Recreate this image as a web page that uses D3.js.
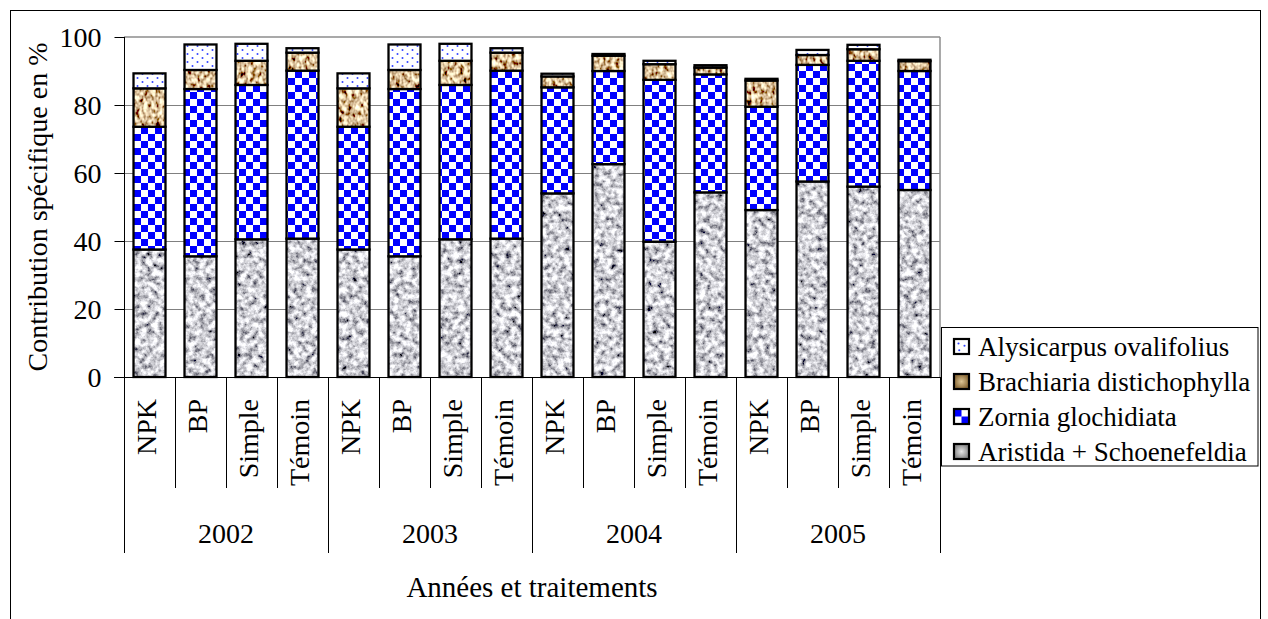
<!DOCTYPE html>
<html><head><meta charset="utf-8">
<script src="https://cdn.jsdelivr.net/npm/d3@7"></script>
<style>
html,body{margin:0;padding:0;background:#fff;}
svg text{font-family:"Liberation Serif","Tinos","Times New Roman","DejaVu Serif",serif !important;fill:#000;}
</style></head>
<body>
<svg id="chart" width="1268" height="619"></svg>
<script>
const years = ["2002","2003","2004","2005"];
const treatments = ["NPK","BP","Simple","Témoin"];
const seriesNames = ["Aristida + Schoenefeldia","Zornia glochidiata","Brachiaria distichophylla","Alysicarpus ovalifolius"];
const aristida    = [37.5,35.5,40.5,40.7, 37.5,35.5,40.5,40.7, 54.0,62.6,39.8,54.3, 49.1,57.5,56.0,55.0];
const zornia      = [36.1,49.2,45.4,49.4, 36.1,49.2,45.4,49.4, 31.2,27.4,47.6,34.7, 30.4,34.3,37.0,35.0];
const brachiaria  = [11.3,5.6,7.1,5.3, 11.3,5.6,7.1,5.3, 3.2,4.5,4.6,2.0, 7.7,2.9,3.4,2.9];
const alysicarpus = [4.4,7.5,5.0,1.3, 4.4,7.5,5.0,1.3, 0.8,0.5,1.0,0.7, 0.5,1.5,1.3,0.4];
const yTicks = [0,20,40,60,80,100];

const keys = ["aristida","zornia","brachiaria","alysicarpus"];
const rows = [];
years.forEach((yr,yi)=>treatments.forEach((t,ti)=>{
  const i = yi*4+ti;
  rows.push({id:yr+"-"+t, year:yr, treat:t, aristida:aristida[i], zornia:zornia[i], brachiaria:brachiaria[i], alysicarpus:alysicarpus[i]});
}));

const svg = d3.select("#chart");
const L=124, R=940, T=37, B=377;
const x = d3.scaleBand().domain(rows.map(d=>d.id)).range([L,R]).paddingInner(0.373).paddingOuter(0.1865);
const y = d3.scaleLinear().domain([0,100]).range([B,T]);
const step = x.step();

const defs = svg.append("defs");
const fg = defs.append("filter").attr("id","granite").attr("x",0).attr("y",0).attr("width","100%").attr("height","100%");
fg.append("feTurbulence").attr("type","fractalNoise").attr("baseFrequency","0.17").attr("numOctaves",4).attr("seed",7);
fg.append("feColorMatrix").attr("type","matrix").attr("values","2.0 0 0 0 -0.36  2.0 0 0 0 -0.36  2.0 0 0 0 -0.32  0 0 0 0 1");
const fb = defs.append("filter").attr("id","woven").attr("x",0).attr("y",0).attr("width","100%").attr("height","100%");
fb.append("feTurbulence").attr("type","fractalNoise").attr("baseFrequency","0.25 0.18").attr("numOctaves",2).attr("seed",3);
fb.append("feColorMatrix").attr("type","matrix").attr("values","2.4 0 0 0 -0.5  2.4 0 0 0 -0.67  1.9 0 0 0 -0.62  0 0 0 0 1");

const pg = defs.append("pattern").attr("id","pAristida").attr("patternUnits","userSpaceOnUse").attr("width",1268).attr("height",619);
pg.append("rect").attr("width",1268).attr("height",619).attr("filter","url(#granite)");
const pb = defs.append("pattern").attr("id","pBrachiaria").attr("patternUnits","userSpaceOnUse").attr("width",1268).attr("height",619);
pb.append("rect").attr("width",1268).attr("height",619).attr("filter","url(#woven)");
const pz = defs.append("pattern").attr("id","pZornia").attr("patternUnits","userSpaceOnUse").attr("width",14).attr("height",14).attr("x",1).attr("y",1);
pz.append("rect").attr("width",14).attr("height",14).attr("fill","#fff");
pz.append("rect").attr("width",7).attr("height",7).attr("fill","#0000ff");
pz.append("rect").attr("x",7).attr("y",7).attr("width",7).attr("height",7).attr("fill","#0000ff");
const pa = defs.append("pattern").attr("id","pAlys").attr("patternUnits","userSpaceOnUse").attr("width",10).attr("height",8);
pa.append("rect").attr("width",10).attr("height",8).attr("fill","#fff");
pa.append("circle").attr("cx",2.5).attr("cy",2).attr("r",1).attr("fill","#3344ff");
pa.append("circle").attr("cx",7.5).attr("cy",6).attr("r",1).attr("fill","#3344ff");

const lz = defs.append("pattern").attr("id","lZornia").attr("patternContentUnits","objectBoundingBox").attr("width",1).attr("height",1);
lz.append("rect").attr("width",1).attr("height",1).attr("fill","#fff");
lz.append("rect").attr("width",0.5).attr("height",0.5).attr("fill","#0000ff");
lz.append("rect").attr("x",0.5).attr("y",0.5).attr("width",0.5).attr("height",0.5).attr("fill","#0000ff");
const la = defs.append("pattern").attr("id","lAlys").attr("patternContentUnits","objectBoundingBox").attr("width",1).attr("height",1);
la.append("rect").attr("width",1).attr("height",1).attr("fill","#fff");
[[0.3,0.3],[0.7,0.45],[0.35,0.75]].forEach(p=>la.append("circle").attr("cx",p[0]).attr("cy",p[1]).attr("r",0.07).attr("fill","#3344ff"));
const gA = defs.append("radialGradient").attr("id","lAristida");
gA.append("stop").attr("offset","0%").attr("stop-color","#e6e6e6");
gA.append("stop").attr("offset","100%").attr("stop-color","#8a8a8a");
const gB = defs.append("radialGradient").attr("id","lBrach");
gB.append("stop").attr("offset","0%").attr("stop-color","#dcc595");
gB.append("stop").attr("offset","100%").attr("stop-color","#8a6a38");

const fills = {aristida:"url(#pAristida)", zornia:"url(#pZornia)", brachiaria:"url(#pBrachiaria)", alysicarpus:"url(#pAlys)"};
const legendFills = {aristida:"url(#lAristida)", zornia:"url(#lZornia)", brachiaria:"url(#lBrach)", alysicarpus:"url(#lAlys)"};

svg.append("rect").attr("x",10.5).attr("y",10.5).attr("width",1250).attr("height",640).attr("fill","#fff").attr("stroke","#000").attr("stroke-width",1);

svg.append("g").selectAll("line").data(yTicks.filter(v=>v>0 && v<100)).join("line")
  .attr("x1",L).attr("x2",R).attr("y1",d=>Math.round(y(d))+0.5).attr("y2",d=>Math.round(y(d))+0.5)
  .attr("stroke","#808080").attr("stroke-width",1);
svg.append("line").attr("x1",L).attr("x2",R).attr("y1",T).attr("y2",T).attr("stroke","#8c8c8c").attr("stroke-width",1.5);
svg.append("line").attr("x1",R).attr("x2",R).attr("y1",T).attr("y2",B).attr("stroke","#8c8c8c").attr("stroke-width",1.5);

const stacked = d3.stack().keys(keys)(rows);
const gBars = svg.append("g");
stacked.forEach(layer=>{
  gBars.append("g").selectAll("rect").data(layer).join("rect")
    .attr("x",d=>x(d.data.id)).attr("width",x.bandwidth())
    .attr("y",d=>y(d[1])).attr("height",d=>y(d[0])-y(d[1]))
    .attr("fill",fills[layer.key]).attr("stroke","#000").attr("stroke-width",2.3);
});

const yAxis = svg.append("g").attr("transform",`translate(${L+0.5},0)`)
  .call(d3.axisLeft(y).tickValues(yTicks).tickSize(10).tickPadding(13).tickFormat(d3.format("d")));
yAxis.attr("font-family",null);
yAxis.select(".domain").attr("stroke","#000").attr("d",`M0,${T}V${B}`);
yAxis.selectAll(".tick line").attr("stroke","#000");
yAxis.selectAll(".tick text").attr("font-size",28).attr("dy","0.34em");

svg.append("line").attr("x1",L-10).attr("x2",R).attr("y1",B+0.5).attr("y2",B+0.5).attr("stroke","#000").attr("stroke-width",1);

const seps = d3.range(rows.length+1);
svg.append("g").selectAll("line").data(seps).join("line")
  .attr("x1",i=>Math.round(L+i*step)+0.5).attr("x2",i=>Math.round(L+i*step)+0.5)
  .attr("y1",B).attr("y2",i=>i%4===0?553:488)
  .attr("stroke","#000").attr("stroke-width",1);

svg.append("g").selectAll("text").data(rows).join("text")
  .attr("transform",d=>`translate(${x(d.id)+x.bandwidth()/2},399) rotate(-90)`)
  .attr("text-anchor","end").attr("dy","0.24em").attr("font-size",28).text(d=>d.treat);

svg.append("g").selectAll("text").data(years).join("text")
  .attr("x",(d,i)=>L+step*(i*4+2)).attr("y",543).attr("text-anchor","middle").attr("font-size",28).text(d=>d);

svg.append("text").attr("x",(L+R)/2).attr("y",597).attr("text-anchor","middle").attr("font-size",29).text("Années et traitements");
svg.append("text").attr("transform",`translate(47,${(T+B)/2}) rotate(-90)`).attr("text-anchor","middle").attr("font-size",28).text("Contribution spécifique en %");

const lg = svg.append("g");
lg.append("rect").attr("x",941.5).attr("y",327.5).attr("width",316.5).attr("height",138.5).attr("fill","#fff").attr("stroke","#000").attr("stroke-width",1);
const legendOrder = ["alysicarpus","brachiaria","zornia","aristida"];
const legendLabels = {aristida:seriesNames[0], zornia:seriesNames[1], brachiaria:seriesNames[2], alysicarpus:seriesNames[3]};
legendOrder.forEach((k,i)=>{
  const cy = 346.5 + i*35;
  lg.append("rect").attr("x",954).attr("y",cy-7.5).attr("width",15).attr("height",15).attr("fill",legendFills[k]).attr("stroke","#000").attr("stroke-width",2.2);
  lg.append("text").attr("x",978).attr("y",cy+9).attr("font-size",27).text(legendLabels[k]);
});
</script>
</body></html>
